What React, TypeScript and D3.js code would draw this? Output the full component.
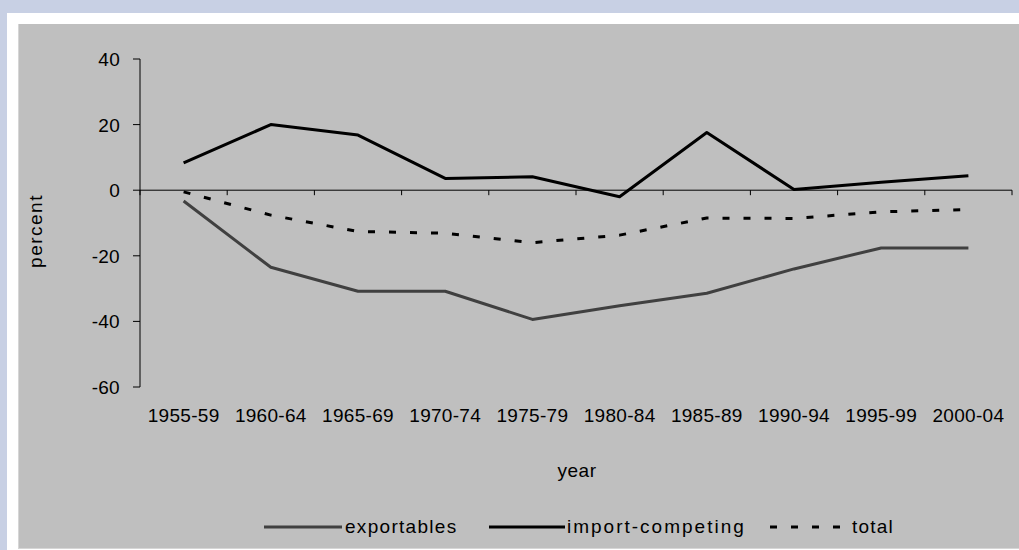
import React from "react";
import * as d3 from "d3";

const categories = ["1955-59", "1960-64", "1965-69", "1970-74", "1975-79", "1980-84", "1985-89", "1990-94", "1995-99", "2000-04"];
const exportables = [-3.3, -23.5, -30.8, -30.8, -39.4, -35.2, -31.4, -24.0, -17.6, -17.6];
const importCompeting = [8.3, 20.0, 16.8, 3.6, 4.1, -2.0, 17.6, 0.2, 2.4, 4.4];
const total = [-0.5, -7.6, -12.6, -13.1, -16.0, -13.7, -8.5, -8.6, -6.6, -5.9];
const yTicks = [40, 20, 0, -20, -40, -60];

const W = 1019;
const H = 550;
const FONT = "'Liberation Sans', Arial, sans-serif";

export default function App() {
  const x = d3.scaleBand<string>().domain(categories).range([140, 1012]);
  const y = d3.scaleLinear().domain([-60, 40]).range([387, 59]);
  const cx = (i: number) => (x(categories[i]) as number) + x.bandwidth() / 2;
  const line = d3
    .line<number>()
    .x((_, i) => cx(i))
    .y((d) => y(d));

  const series = [
    { name: "exportables", values: exportables, color: "#404040", dash: undefined as string | undefined },
    { name: "import-competing", values: importCompeting, color: "#000000", dash: undefined },
    { name: "total", values: total, color: "#000000", dash: "7,14" },
  ];

  const boundaries = categories.map((c) => x(c) as number).concat([x.range()[1]]);

  return (
    <svg width={W} height={H} style={{ position: "absolute", left: 0, top: 0, display: "block" }}>
      <rect x={0} y={0} width={W} height={H} fill="#c8d0e4" />
      <rect x={7} y={13} width={W - 7} height={H - 13} fill="#ffffff" />
      <rect x={18} y={24} width={W - 18} height={524} fill="#bfbfbf" />
      <line x1={18.5} y1={24} x2={18.5} y2={548} stroke="#d6d6d6" />
      <line x1={18} y1={548.5} x2={W} y2={548.5} stroke="#d6d6d6" />

      {/* y axis */}
      <line x1={140} y1={y(40)} x2={140} y2={y(-60)} stroke="#000" strokeWidth={1} />
      {yTicks.map((t) => (
        <g key={t}>
          <line x1={133} x2={140} y1={y(t)} y2={y(t)} stroke="#000" />
          <text x={120} y={y(t) + 7} textAnchor="end" fontFamily={FONT} fontSize={19} fill="#000" letterSpacing={0.3}>
            {t}
          </text>
        </g>
      ))}

      {/* x axis at zero */}
      <line x1={140} x2={1012} y1={y(0)} y2={y(0)} stroke="#000" />
      {boundaries.map((b, i) => (
        <line key={i} x1={b} x2={b} y1={y(0)} y2={y(0) + 5} stroke="#000" />
      ))}
      {categories.map((c, i) => (
        <text key={c} x={cx(i)} y={422} textAnchor="middle" fontFamily={FONT} fontSize={19} fill="#000" letterSpacing={0.3}>
          {c}
        </text>
      ))}

      {/* series */}
      {series.map((s) => (
        <path
          key={s.name}
          d={line(s.values) || ""}
          fill="none"
          stroke={s.color}
          strokeWidth={3}
          strokeDasharray={s.dash}
          strokeLinejoin="round"
        />
      ))}

      {/* axis titles */}
      <text
        transform={`translate(42,231) rotate(-90)`}
        textAnchor="middle"
        fontFamily={FONT}
        fontSize={19}
        fill="#000"
        letterSpacing={1.5}
      >
        percent
      </text>
      <text x={577} y={477} textAnchor="middle" fontFamily={FONT} fontSize={19} fill="#000" letterSpacing={0.5}>
        year
      </text>

      {/* legend */}
      <line x1={264} x2={342} y1={527} y2={527} stroke="#404040" strokeWidth={3} />
      <text x={345} y={533} fontFamily={FONT} fontSize={19} fill="#000" letterSpacing={1.3}>exportables</text>
      <line x1={489} x2={565} y1={527} y2={527} stroke="#000" strokeWidth={3} />
      <text x={567} y={533} fontFamily={FONT} fontSize={19} fill="#000" letterSpacing={2}>import-competing</text>
      <line x1={770} x2={847} y1={527} y2={527} stroke="#000" strokeWidth={3} strokeDasharray="7,14" />
      <text x={852} y={533} fontFamily={FONT} fontSize={19} fill="#000" letterSpacing={1.2}>total</text>
    </svg>
  );
}
